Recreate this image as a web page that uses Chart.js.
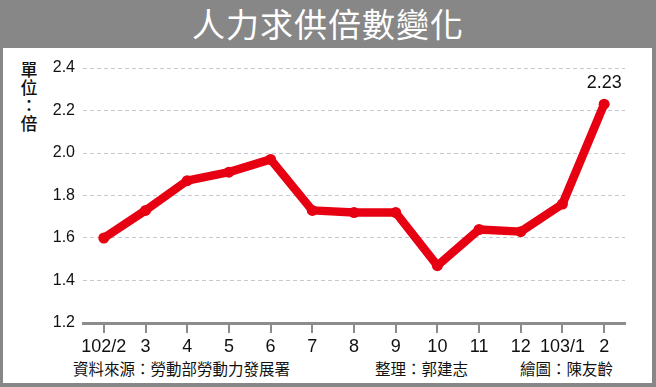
<!DOCTYPE html>
<html>
<head>
<meta charset="utf-8">
<script src="https://cdn.jsdelivr.net/npm/chart.js@4"></script>
<style>
  html, body { margin: 0; padding: 0; background: #878787; overflow: hidden; }
  #wrap { position: relative; width: 656px; height: 387px; background: #878787; font-family: "Noto Sans CJK TC", "Noto Sans", sans-serif; }
  #title { position: absolute; left: 0; top: 0; width: 656px; height: 48px; line-height: 46px; text-align: center; color: #fff; font-size: 33px; letter-spacing: 1px; }
  #panel { position: absolute; left: 3px; top: 48px; width: 649px; height: 335px; background: #fff; }
  #unit { position: absolute; left: 20px; top: 60px; width: 18px; font-size: 17px; line-height: 18px; color: #111; text-align: center; font-weight: 500; }
  .foot { position: absolute; top: 357px; font-size: 15.5px; color: #111; white-space: nowrap; }
  #chart-box { position: absolute; left: 0; top: 0; width: 656px; height: 387px; }
</style>
</head>
<body>
<div id="wrap">
  <div id="title">人力求供倍數變化</div>
  <div id="panel"></div>
  <div id="unit">單<br>位<br>：<br>倍</div>
  <div class="foot" style="left:73px">資料來源：勞動部勞動力發展署</div>
  <div class="foot" style="left:375px">整理：郭建志</div>
  <div class="foot" style="left:520px">繪圖：陳友齡</div>
  <div id="chart-box"><canvas id="ratio-chart"></canvas></div>
</div>
<script>
const months = ["102/2", "3", "4", "5", "6", "7", "8", "9", "10", "11", "12", "103/1", "2"];
const ratios = [1.60, 1.73, 1.87, 1.91, 1.97, 1.73, 1.72, 1.72, 1.47, 1.64, 1.63, 1.76, 2.23];
const yTicks = [1.2, 1.4, 1.6, 1.8, 2.0, 2.2, 2.4];
const labelledIndex = [12]; // only the last point carries its value

const lastValueLabel = {
    id: "lastValueLabel",
    afterDatasetsDraw(chart) {
        const ctx = chart.ctx;
        const meta = chart.getDatasetMeta(0);
        ctx.save();
        ctx.font = "18px 'Liberation Sans', Arial, sans-serif";
        ctx.fillStyle = "#111";
        ctx.textAlign = "center";
        ctx.textBaseline = "bottom";
        labelledIndex.forEach(function (i) {
            const pt = meta.data[i];
            ctx.fillText(ratios[i].toFixed(2), pt.x, pt.y - 12);
        });
        ctx.restore();
    }
};

const ctx = document.getElementById("ratio-chart").getContext("2d");
new Chart(ctx, {
    type: "line",
    data: {
        labels: months,
        datasets: [{
            data: ratios,
            borderColor: "#e60012",
            backgroundColor: "#e60012",
            borderWidth: 8.5,
            pointRadius: 5.5,
            pointHoverRadius: 5.5,
            pointBorderWidth: 0,
            tension: 0,
            borderJoinStyle: "round",
            borderCapStyle: "round"
        }]
    },
    options: {
        responsive: true,
        maintainAspectRatio: false,
        animation: false,
        layout: { padding: { left: 0, right: 31, top: 68, bottom: 22 } },
        plugins: {
            legend: { display: false },
            tooltip: { enabled: false }
        },
        scales: {
            x: {
                offset: true,
                grid: {
                    drawOnChartArea: false,
                    drawTicks: true,
                    tickLength: 10,
                    color: "#8c8c8c",
                    lineWidth: 2
                },
                border: { display: true, color: "#8c8c8c", width: 3 },
                ticks: {
                    color: "#111",
                    padding: 3,
                    maxRotation: 0,
                    autoSkip: false,
                    font: { family: "'Liberation Sans', Arial, sans-serif", size: 18 }
                },
                afterFit: function (scale) { scale.height = 42; }
            },
            y: {
                min: 1.2,
                max: 2.4,
                afterBuildTicks: function (scale) {
                    scale.ticks = yTicks.map(function (v) { return { value: v }; });
                },
                grid: {
                    color: "#c4c8d0",
                    lineWidth: 1,
                    drawTicks: false
                },
                border: { display: false, dash: [4, 3] },
                ticks: {
                    color: "#111",
                    padding: 8,
                    font: { family: "'Liberation Sans', Arial, sans-serif", size: 16 },
                    callback: function (v) { return Number(v).toFixed(1); }
                },
                afterFit: function (scale) { scale.width = 83; }
            }
        }
    },
    plugins: [lastValueLabel]
});
</script>
</body>
</html>
